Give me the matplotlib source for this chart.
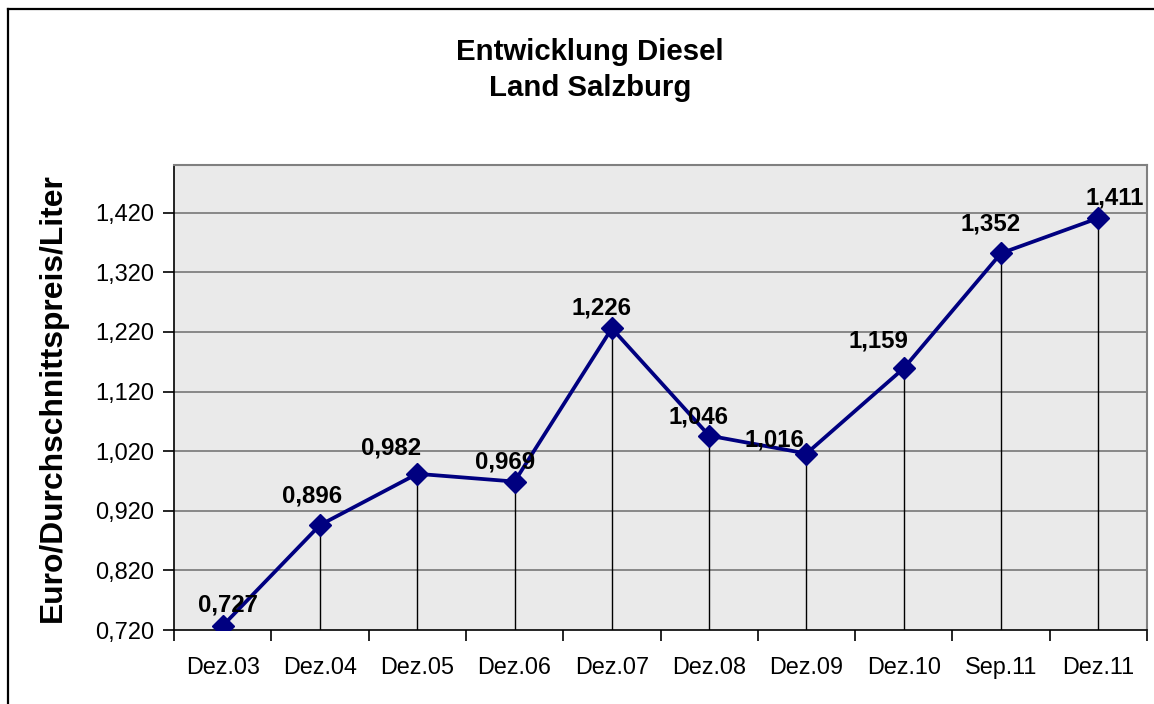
import matplotlib
matplotlib.use("Agg")
import matplotlib.pyplot as plt
from matplotlib.lines import Line2D

categories = ["Dez.03", "Dez.04", "Dez.05", "Dez.06", "Dez.07", "Dez.08", "Dez.09", "Dez.10", "Sep.11", "Dez.11"]
prices = [0.727, 0.896, 0.982, 0.969, 1.226, 1.046, 1.016, 1.159, 1.352, 1.411]
y_ticks = [0.72, 0.82, 0.92, 1.02, 1.12, 1.22, 1.32, 1.42]
title = "Entwicklung Diesel\nLand Salzburg"
y_label = "Euro/Durchschnittspreis/Liter"

# label offsets in pixels (layout only): centre of digits relative to point
label_offsets = [(5, 22.5), (-8, 31), (-26, 28), (-9, 22), (-10, 22.5),
                 (-10.5, 21), (-32, 16), (-25, 29), (-10, 31.5), (16.5, 22)]

plt.rcParams['font.family'] = ['Liberation Sans', 'DejaVu Sans']

W, H = 1154, 704
fig = plt.figure(figsize=(W / 100, H / 100), dpi=100)
fig.patch.set_facecolor("white")

ax = fig.add_axes([174 / W, 1 - 630 / H, (1147 - 174) / W, (630 - 165) / H])
ax.set_facecolor("#EAEAEA")

x = list(range(len(categories)))
ax.set_xlim(-0.5, len(categories) - 0.5)
ax.set_ylim(0.72, 1.50)

for yt in y_ticks[1:]:
    ax.axhline(yt, color="#808080", lw=1.3, zorder=1)

ax.vlines(x, 0.72, prices, colors="black", lw=1.0, zorder=2)

ax.plot(x, prices, color="#000080", lw=2.7, marker="D", ms=11.5,
        markerfacecolor="#000080", markeredgecolor="#000080", zorder=3)

for xi, v, (dx, dy) in zip(x, prices, label_offsets):
    ax.annotate(f"{v:.3f}".replace(".", ","), (xi, v), xytext=(dx, dy - 8.5),
                textcoords="offset pixels", ha="center", va="baseline",
                fontsize=17.3, fontweight="bold", zorder=4)

ax.set_yticks(y_ticks)
ax.set_yticklabels([f"{t:.3f}".replace(".", ",") for t in y_ticks], fontsize=17)
ax.set_xticks(x)
ax.set_xticklabels(categories, fontsize=16.8)
ax.tick_params(axis="x", length=0, pad=19)
ax.set_xticks([i - 0.5 for i in range(len(categories) + 1)], minor=True)
ax.tick_params(axis="x", which="minor", length=8, width=1.2, direction="out", color="black")
ax.tick_params(axis="y", length=8, width=1.2, direction="out", pad=6)

for s in ["top", "right"]:
    ax.spines[s].set_color("#808080")
    ax.spines[s].set_linewidth(1.5)
for s in ["left", "bottom"]:
    ax.spines[s].set_color("black")
    ax.spines[s].set_linewidth(1.2)

ax.set_ylabel(y_label, fontsize=22.9, fontweight="bold")
ax.yaxis.set_label_coords(-0.109, 0.5)

fig.text(590 / W, 1 - 70 / H, title, ha="center", va="center",
         fontsize=21.2, fontweight="bold", linespacing=1.4)

fig.add_artist(Line2D([8 / W, 8 / W], [0, 1 - 9 / H], transform=fig.transFigure,
                      color="black", lw=1.6))
fig.add_artist(Line2D([8 / W, 1], [1 - 9 / H, 1 - 9 / H], transform=fig.transFigure,
                      color="black", lw=1.6))

fig.savefig("out.png", dpi=100)
